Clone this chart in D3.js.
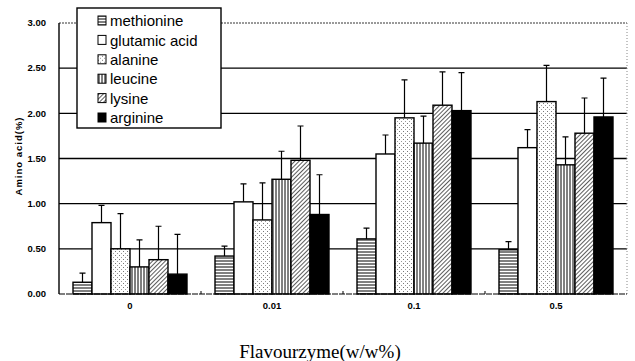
<!DOCTYPE html>
<html lang="en">
<head>
<meta charset="utf-8">
<script src="https://cdn.jsdelivr.net/npm/d3@7"></script>
<style>
  body { margin: 0; background: #fff; }
  .tick-lbl { font-family: "Liberation Sans", Arial, sans-serif; font-size: 9.5px; font-weight: bold; fill: #000; }
  .y-title { font-family: "Liberation Sans", Arial, sans-serif; font-size: 9.5px; font-weight: bold; fill: #000; letter-spacing: 1px; }
  .leg-lbl { font-family: "Liberation Sans", Arial, sans-serif; font-size: 15px; fill: #000; }
  .x-title { font-family: "Liberation Serif", "Times New Roman", serif; font-size: 19px; fill: #000; }
</style>
</head>
<body>
<div id="chart"></div>
<script>
// data
var groups = ["0", "0.01", "0.1", "0.5"];
var series = ["methionine", "glutamic acid", "alanine", "leucine", "lysine", "arginine"];
var methionine   = [0.13, 0.42, 0.61, 0.49];
var glutamicAcid = [0.79, 1.02, 1.55, 1.62];
var alanine      = [0.50, 0.82, 1.95, 2.13];
var leucine      = [0.30, 1.27, 1.67, 1.43];
var lysine       = [0.38, 1.48, 2.09, 1.78];
var arginine     = [0.22, 0.88, 2.03, 1.96];
// top of each error bar
var methionineErr   = [0.23, 0.53, 0.73, 0.58];
var glutamicAcidErr = [0.98, 1.22, 1.76, 1.82];
var alanineErr      = [0.89, 1.23, 2.37, 2.53];
var leucineErr      = [0.60, 1.58, 1.97, 1.74];
var lysineErr       = [0.75, 1.86, 2.46, 2.17];
var arginineErr     = [0.66, 1.32, 2.45, 2.39];
var yTicks = [0, 0.5, 1.0, 1.5, 2.0, 2.5, 3.0];

var vals = [methionine, glutamicAcid, alanine, leucine, lysine, arginine];
var errs = [methionineErr, glutamicAcidErr, alanineErr, leucineErr, lysineErr, arginineErr];
var fills = ["url(#pHoriz)", "#fff", "url(#pDots)", "url(#pVert)", "url(#pDiag)", "#000"];

var width = 635, height = 361;
var margin = {top: 23, right: 8, bottom: 67, left: 59};
var w = width - margin.left - margin.right,
    h = height - margin.top - margin.bottom;

var svg = d3.select("#chart").append("svg")
    .attr("width", width)
    .attr("height", height);

// patterns
var defs = svg.append("defs");
var p1 = defs.append("pattern").attr("id", "pHoriz").attr("patternUnits", "userSpaceOnUse")
    .attr("width", 6).attr("height", 3);
p1.append("rect").attr("width", 6).attr("height", 3).attr("fill", "#fff");
p1.append("line").attr("x1", 0).attr("x2", 6).attr("y1", 1).attr("y2", 1)
    .attr("stroke", "#000").attr("stroke-width", 1);

var p2 = defs.append("pattern").attr("id", "pVert").attr("patternUnits", "userSpaceOnUse")
    .attr("width", 3).attr("height", 6);
p2.append("rect").attr("width", 3).attr("height", 6).attr("fill", "#fff");
p2.append("line").attr("x1", 1).attr("x2", 1).attr("y1", 0).attr("y2", 6)
    .attr("stroke", "#000").attr("stroke-width", 1);

var p3 = defs.append("pattern").attr("id", "pDots").attr("patternUnits", "userSpaceOnUse")
    .attr("width", 4).attr("height", 4);
p3.append("rect").attr("width", 4).attr("height", 4).attr("fill", "#fff");
p3.append("rect").attr("x", 0).attr("y", 0).attr("width", 1).attr("height", 1).attr("fill", "#777");
p3.append("rect").attr("x", 2).attr("y", 2).attr("width", 1).attr("height", 1).attr("fill", "#999");

var p4 = defs.append("pattern").attr("id", "pDiag").attr("patternUnits", "userSpaceOnUse")
    .attr("width", 3).attr("height", 3).attr("patternTransform", "rotate(45)");
p4.append("rect").attr("width", 3).attr("height", 3).attr("fill", "#fff");
p4.append("line").attr("x1", 0).attr("x2", 0).attr("y1", 0).attr("y2", 3)
    .attr("stroke", "#333").attr("stroke-width", 1.6);

var g = svg.append("g").attr("transform", "translate(" + margin.left + "," + margin.top + ")");

var x0 = d3.scaleBand().domain(groups).range([0, w]);
var x1 = d3.scaleBand().domain(d3.range(series.length)).range([0, 114]);
var y = d3.scaleLinear().domain([0, 3]).range([h, 0]);

// grid lines
g.selectAll(".grid").data(yTicks.filter(function(d) { return d > 0; }))
  .enter().append("line")
    .attr("x1", 0).attr("x2", w)
    .attr("y1", function(d) { return y(d); }).attr("y2", function(d) { return y(d); })
    .attr("stroke", "#000")
    .attr("stroke-width", function(d) { return d == 3 ? 0.8 : 1.4; })
    .attr("stroke-dasharray", function(d) { return d == 3 ? "2,1" : null; });

// right border, dotted
g.append("line").attr("x1", w).attr("x2", w).attr("y1", 0).attr("y2", h)
    .attr("stroke", "#888").attr("stroke-width", 1).attr("stroke-dasharray", "1,2");

// bars
var off = (x0.bandwidth() - 114) / 2;
series.forEach(function(s, si) {
  var sg = g.append("g");
  sg.selectAll("rect").data(vals[si]).enter().append("rect")
    .attr("x", function(d, i) { return x0(groups[i]) + off + x1(si); })
    .attr("y", function(d) { return y(d); })
    .attr("width", x1.bandwidth())
    .attr("height", function(d) { return h - y(d); })
    .attr("fill", fills[si])
    .attr("stroke", "#000").attr("stroke-width", 1.4);
  // error bars
  sg.selectAll(".err").data(errs[si]).enter().append("path")
    .attr("d", function(d, i) {
      var cx = x0(groups[i]) + off + x1(si) + x1.bandwidth() / 2;
      return "M" + cx + "," + y(vals[si][i]) + "V" + y(d) + "M" + (cx - 3) + "," + y(d) + "H" + (cx + 3);
    })
    .attr("fill", "none")
    .attr("stroke", "#000").attr("stroke-width", 1.2);
});

// axes
g.append("line").attr("x1", 0).attr("x2", 0).attr("y1", 0).attr("y2", h)
    .attr("stroke", "#000").attr("stroke-width", 1.4);
g.append("line").attr("x1", 0).attr("x2", w).attr("y1", h).attr("y2", h)
    .attr("stroke", "#000").attr("stroke-width", 1.2).attr("stroke-dasharray", "6,1");
g.selectAll(".xt").data(groups.slice(1)).enter().append("line")
    .attr("x1", function(d) { return x0(d); }).attr("x2", function(d) { return x0(d); })
    .attr("y1", h).attr("y2", h - 3)
    .attr("stroke", "#000");

g.selectAll(".ylab").data(yTicks).enter().append("text")
    .attr("class", "tick-lbl")
    .attr("x", -13).attr("y", function(d) { return y(d); })
    .attr("dy", "0.35em").attr("text-anchor", "end")
    .text(function(d) { return d3.format(".2f")(d); });

g.selectAll(".xlab").data(groups).enter().append("text")
    .attr("class", "tick-lbl")
    .attr("x", function(d) { return x0(d) + x0.bandwidth() / 2; })
    .attr("y", h + 15)
    .attr("text-anchor", "middle")
    .text(function(d) { return d; });

svg.append("text").attr("class", "y-title")
    .attr("transform", "translate(22,156) rotate(-90)")
    .attr("text-anchor", "middle")
    .text("Amino acid(%)");

svg.append("text").attr("class", "x-title")
    .attr("x", 320).attr("y", 358)
    .attr("text-anchor", "middle")
    .text("Flavourzyme(w/w%)");

// legend
var leg = svg.append("g").attr("transform", "translate(77,8)");
leg.append("rect").attr("width", 144).attr("height", 120)
    .attr("fill", "#fff").attr("stroke", "#000").attr("stroke-width", 1.4);
var item = leg.selectAll(".li").data(series).enter().append("g")
    .attr("transform", function(d, i) { return "translate(21," + (13 + i * 19.4) + ")"; });
item.append("rect").attr("x", 0).attr("y", -5).attr("width", 8).attr("height", 9)
    .attr("fill", function(d, i) { return fills[i]; })
    .attr("stroke", "#000").attr("stroke-width", 1);
item.append("text").attr("class", "leg-lbl")
    .attr("x", 12).attr("y", 0).attr("dy", "0.35em")
    .text(function(d) { return d; });
</script>
</body>
</html>
